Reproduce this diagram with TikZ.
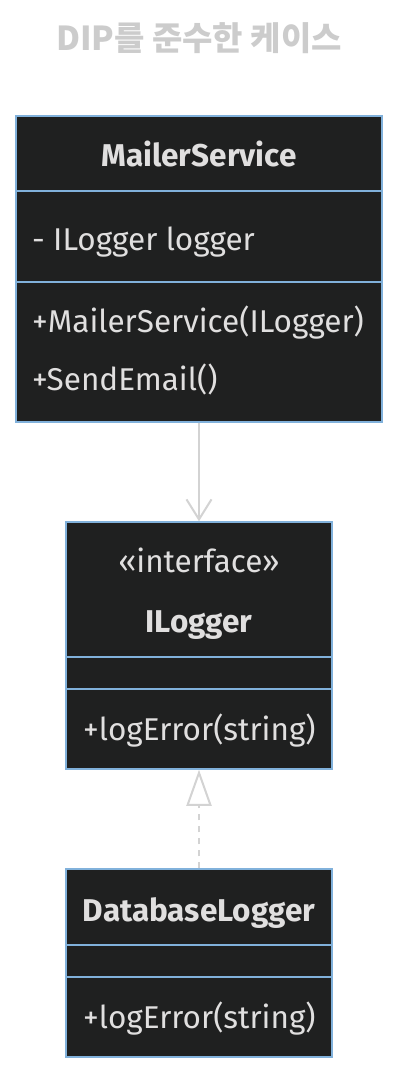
\documentclass[tikz,border=0pt]{standalone}
\usepackage{fontspec}
\setmainfont{Fira Sans}
\newfontfamily\krfont{Noto Sans CJK KR}
\usetikzlibrary{arrows.meta}
\definecolor{boxfill}{HTML}{1F2020}
\definecolor{boxline}{HTML}{81B1DB}
\definecolor{txtcol}{HTML}{E0DFDF}
\definecolor{edgecol}{HTML}{D3D3D3}
\definecolor{ttlcol}{HTML}{CCCCCC}
\begin{document}
\begin{tikzpicture}[x=1pt,y=-1pt,
  classbox/.style={draw=boxline, fill=boxfill, line width=1.5pt, rectangle, inner sep=0pt},
  divider/.style={draw=boxline, line width=1.5pt},
  nametxt/.style={text=txtcol, inner sep=0pt, anchor=base, font=\fontsize{31.5}{36}\selectfont\bfseries},
  stereotxt/.style={text=txtcol, inner sep=0pt, anchor=base, font=\fontsize{31.5}{36}\selectfont},
  membertxt/.style={text=txtcol, inner sep=0pt, anchor=base west, font=\fontsize{31.5}{36}\selectfont},
  edgeline/.style={draw=edgecol, line width=2pt}
]
\useasboundingbox (0,0) rectangle (420,1088);
\fill[white] (0,0) rectangle (420,1088);

\node[anchor=base, inner sep=0pt, text=ttlcol, font=\krfont\bfseries\fontsize{33}{40}\selectfont] (title) at (199,50) {DIP를 준수한 케이스};

% MailerService
\node[classbox, minimum width=366pt, minimum height=306pt] (ms) at (199,269) {};
\draw[divider] (ms.west |- 0,191) -- (ms.east |- 0,191);
\draw[divider] (ms.west |- 0,282) -- (ms.east |- 0,282);
\node[nametxt] (msname) at (199,166.7) {MailerService};
\node[membertxt] (msattr) at (32,250) {- ILogger logger};
\node[membertxt] (msm1) at (32,332) {+MailerService(ILogger)};
\node[membertxt] (msm2) at (32,390) {+SendEmail()};

% ILogger
\node[classbox, minimum width=266pt, minimum height=247pt] (il) at (199,645.5) {};
\draw[divider] (il.west |- 0,657) -- (il.east |- 0,657);
\draw[divider] (il.west |- 0,689) -- (il.east |- 0,689);
\node[stereotxt] (ilst) at (199,572) {«interface»};
\node[nametxt] (ilname) at (199,632) {ILogger};
\node[membertxt] (ilm1) at (83,740) {+logError(string)};

% DatabaseLogger
\node[classbox, minimum width=266pt, minimum height=188pt] (dl) at (199,963) {};
\draw[divider] (dl.west |- 0,945) -- (dl.east |- 0,945);
\draw[divider] (dl.west |- 0,977) -- (dl.east |- 0,977);
\node[nametxt] (dlname) at (199,921) {DatabaseLogger};
\node[membertxt] (dlm1) at (83,1028) {+logError(string)};

% connectors
\draw[edgeline, -{Straight Barb[length=20pt,width=25pt]}] (ms.south) -- (il.north);
\draw[edgeline, dash pattern=on 6pt off 6pt, -{Triangle[open,length=36pt,width=25pt,fill=white]}] (dl.north) -- (il.south);
\end{tikzpicture}
\end{document}
